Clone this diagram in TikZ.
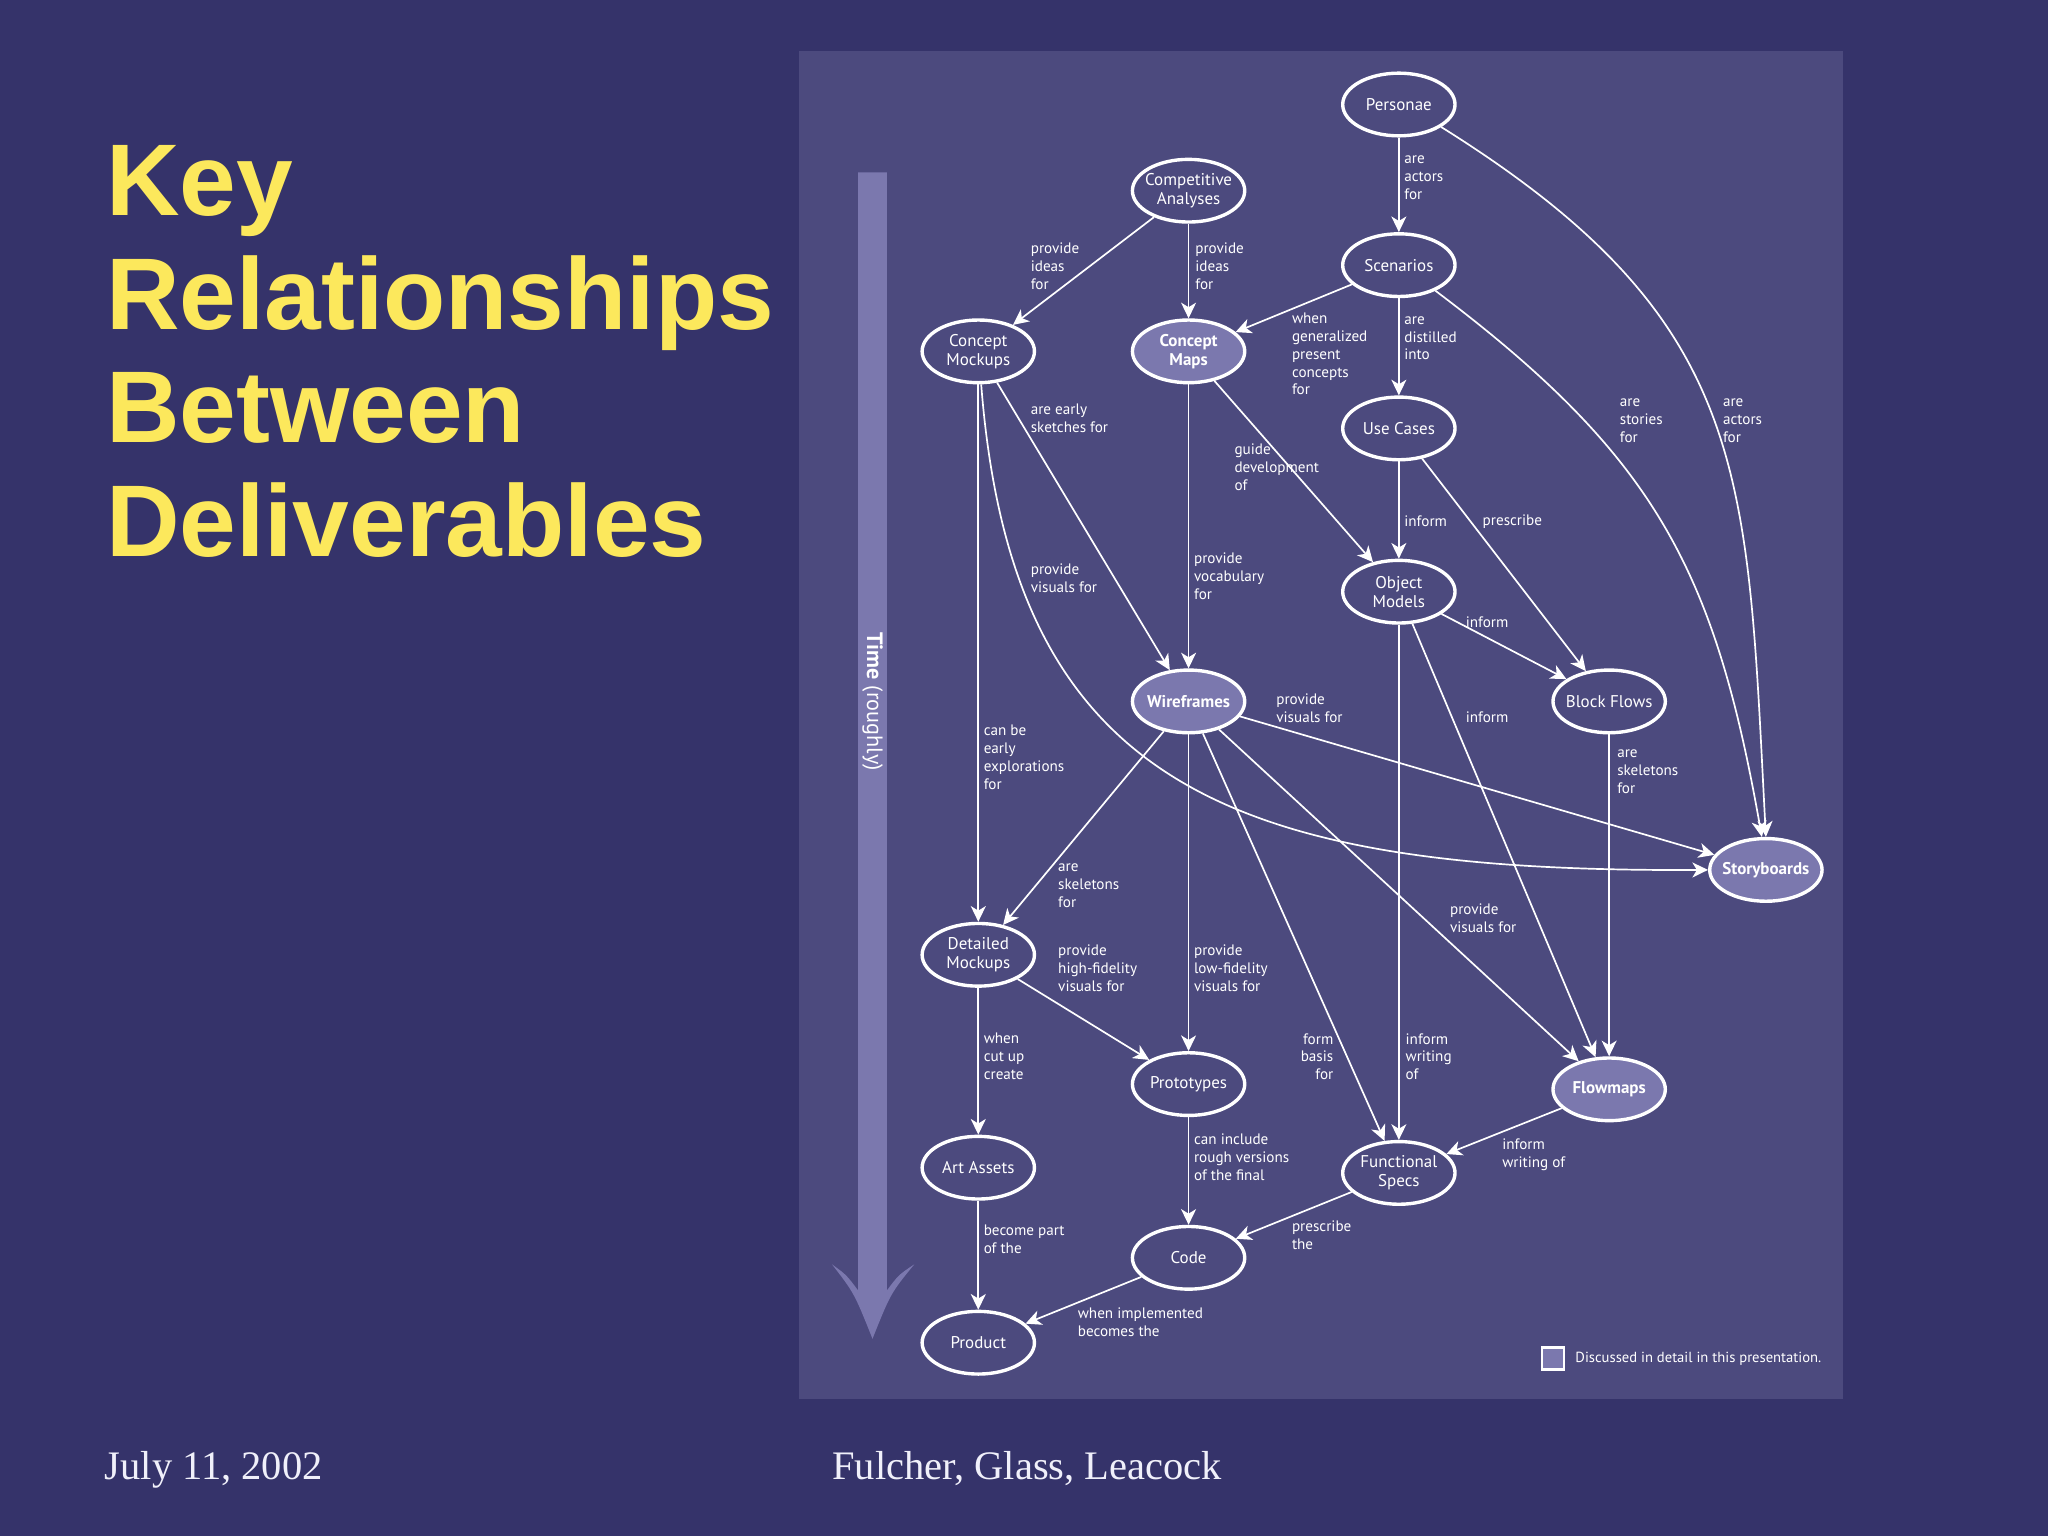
\documentclass[tikz,border=0pt]{standalone}
\usepackage{fontspec}
\setmainfont{Liberation Serif}
\newfontfamily\myriad{PT Sans}
\newfontfamily\headfont{Liberation Sans}
\usetikzlibrary{arrows.meta, shapes.geometric}

\definecolor{slidebg}{HTML}{35336A}
\definecolor{panelbg}{HTML}{4C4A7E}
\definecolor{keyfill}{HTML}{7B78AE}
\definecolor{titleyellow}{HTML}{FCE85C}
\definecolor{footgray}{HTML}{F0F0FA}

\begin{document}
\begin{tikzpicture}[x=1pt, y=1pt,
  deliv/.style={ellipse, draw=white, line width=2.6pt, fill=panelbg,
    minimum width=86pt, minimum height=48pt, inner xsep=-8pt, inner ysep=-4pt,
    align=center, text=white, font=\myriad\fontsize{13}{14.5}\selectfont},
  keydeliv/.style={deliv, fill=keyfill, font=\myriad\bfseries\fontsize{13}{14.5}\selectfont},
  rel/.style={draw=white, line width=1.3pt, -{Stealth[length=12pt,width=11.5pt,inset=3.5pt]}},
  lbl/.style={anchor=west, inner sep=0pt, align=left, text=white,
    font=\myriad\fontsize{11.6}{13.7}\selectfont},
  headline/.style={anchor=base west, inner sep=0pt, text=titleyellow,
    font=\headfont\bfseries\fontsize{78}{87}\selectfont},
  footline/.style={anchor=base west, inner sep=0pt, text=footgray,
    font=\fontsize{31}{34}\selectfont}]

% slide and panel
\fill[slidebg] (0,0) rectangle (1568,-1176);
\useasboundingbox (0,0) rectangle (1568,-1176);
\fill[panelbg] (612,-39) rectangle (1411,-1071);

% title and footer
\node[headline] (h1) at (81,-165) {Key};
\node[headline] (h2) at (81,-252) {Relationships};
\node[headline] (h3) at (81,-339) {Between};
\node[headline] (h4) at (81,-426) {Deliverables};
\node[footline] (date) at (80,-1133) {July 11, 2002};
\node[footline] (names) at (637,-1133) {Fulcher, Glass, Leacock};

% time arrow
\fill[keyfill] (657,-132) -- (679,-132) -- (679,-988)
  .. controls (688,-976) .. (700,-968) .. controls (682,-990) .. (668,-1025)
  .. controls (654,-990) .. (637,-968) .. controls (648,-976) .. (657,-988) -- cycle;
\node[rotate=-90, text=white, font=\myriad\fontsize{17}{20}\selectfont] (time) at (668,-537)
  {\textbf{Time} (roughly)};

% deliverables
\node[deliv] (per) at (1071,-80) {Personae};
\node[deliv] (comp) at (910,-146) {Competitive\\Analyses};
\node[deliv] (scen) at (1071,-203) {Scenarios};
\node[deliv] (cmock) at (749,-269) {Concept\\Mockups};
\node[keydeliv] (cmap) at (910,-269) {Concept\\Maps};
\node[deliv] (usec) at (1071,-328) {Use Cases};
\node[deliv] (objm) at (1071,-453) {Object\\Models};
\node[keydeliv] (wire) at (910,-537) {Wireframes};
\node[deliv] (block) at (1232,-537) {Block Flows};
\node[keydeliv] (story) at (1352,-666) {Storyboards};
\node[deliv] (dmock) at (749,-731) {Detailed\\Mockups};
\node[deliv] (proto) at (910,-830) {Prototypes};
\node[keydeliv] (flow) at (1232,-834) {Flowmaps};
\node[deliv] (art) at (749,-894) {Art Assets};
\node[deliv] (fspec) at (1071,-898) {Functional\\Specs};
\node[deliv] (code) at (910,-963) {Code};
\node[deliv] (prod) at (749,-1028) {Product};

% straight relations
\foreach \a/\b in {per/scen, comp/cmock, comp/cmap, scen/cmap, scen/usec,
    cmock/wire, cmock/dmock, cmap/wire, cmap/objm, usec/objm, usec/block,
    objm/block, objm/fspec, objm/flow, wire/story, wire/dmock, wire/proto,
    wire/fspec, wire/flow, block/flow, dmock/proto, dmock/art, proto/code,
    flow/fspec, fspec/code, art/prod, code/prod}
  \draw[rel] (\a) -- (\b);

% curved relations
\draw[rel] (per.-28) to[out=-32, in=93, looseness=1.2] (story.north);
\draw[rel] (scen.-35) to[out=-37, in=100, looseness=1.1] (story.97);
\draw[rel] (cmock.-85) .. controls (775,-600) and (940,-668) .. (story.west);

% relation labels
\node[lbl] (t1) at (1075,-136) {are\\actors\\for};
\node[lbl] (t2) at (1319,-322) {are\\actors\\for};
\node[lbl] (t3) at (789,-204) {provide\\ideas\\for};
\node[lbl] (t4) at (915,-204) {provide\\ideas\\for};
\node[lbl] (t5) at (989,-271) {when\\generalized\\present\\concepts\\for};
\node[lbl] (t6) at (1075,-259) {are\\distilled\\into};
\node[lbl] (t7) at (1240,-322) {are\\stories\\for};
\node[lbl] (t8) at (789,-320) {are early\\sketches for};
\node[lbl] (t9) at (753,-580) {can be\\early\\explorations\\for};
\node[lbl] (t10) at (789,-443) {provide\\visuals for};
\node[lbl] (t11) at (914,-441) {provide\\vocabulary\\for};
\node[lbl] (t12) at (945,-358) {guide\\development\\of};
\node[lbl] (t13) at (1075,-399) {inform};
\node[lbl] (t14) at (1135,-399) {prescribe};
\node[lbl] (t15) at (1122,-476) {inform};
\node[lbl] (t16) at (1076,-809) {inform\\writing\\of};
\node[lbl] (t17) at (1122,-549) {inform};
\node[lbl] (t18) at (977,-542) {provide\\visuals for};
\node[lbl] (t19) at (810,-678) {are\\skeletons\\for};
\node[lbl] (t20) at (914,-741) {provide\\low-fidelity\\visuals for};
\node[lbl, anchor=east, align=right] (t21) at (1021,-809) {form\\basis\\for};
\node[lbl] (t22) at (1110,-703) {provide\\visuals for};
\node[lbl] (t23) at (1238,-591) {are\\skeletons\\for};
\node[lbl] (t24) at (810,-741) {provide\\high-fidelity\\visuals for};
\node[lbl] (t25) at (753,-809) {when\\cut up\\create};
\node[lbl] (t26) at (914,-886) {can include\\rough versions\\of the final};
\node[lbl] (t27) at (1150,-884) {inform\\writing of};
\node[lbl] (t28) at (989,-946) {prescribe\\the};
\node[lbl] (t29) at (753,-949) {become part\\of the};
\node[lbl] (t30) at (825,-1012) {when implemented\\becomes the};

% legend
\node[draw=white, line width=2pt, fill=keyfill, minimum size=17pt, inner sep=0pt] (keybox) at (1189,-1040) {};
\node[lbl, font=\myriad\fontsize{11.2}{13}\selectfont] (keytext) at (1206,-1040) {Discussed in detail in this presentation.};
\end{tikzpicture}
\end{document}
